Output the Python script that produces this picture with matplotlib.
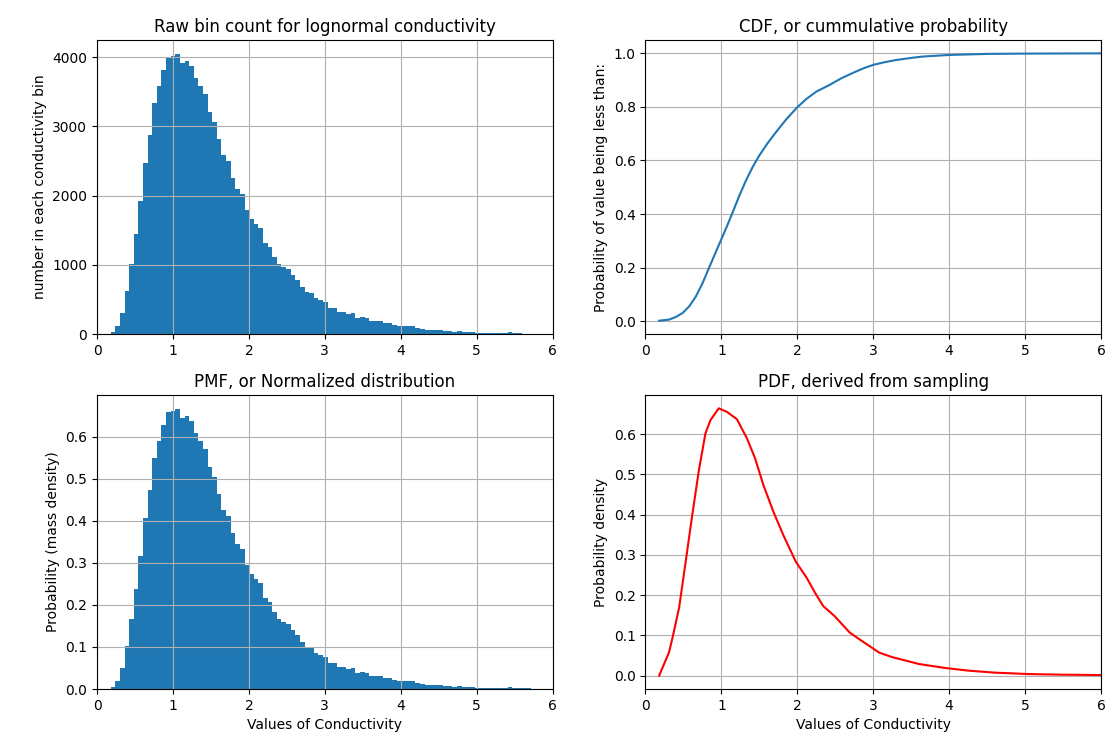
import numpy as np
import matplotlib
matplotlib.use("Agg")
import matplotlib.pyplot as plt
from matplotlib.ticker import MultipleLocator

# ---- data ----
bin_start = 0.18
bin_width = 0.0608
n_samples = 100000
counts = [
    30, 110, 311, 622, 1010, 1450, 1923, 2478, 2871, 3340,
    3589, 3818, 4000, 4024, 4048, 3923, 3952, 3876, 3699, 3589,
    3474, 3215, 3062, 2813, 2593, 2507, 2249, 2096, 2019, 1799,
    1665, 1589, 1531, 1321, 1254, 1120, 1014, 967, 938, 852,
    775, 678, 606, 591, 524, 490, 466, 370, 370, 322,
    312, 284, 303, 226, 245, 226, 192, 192, 188, 154,
    154, 135, 115, 115, 110, 110, 87, 77, 65, 65,
    62, 60, 48, 48, 29, 48, 29, 29, 29, 19,
    19, 10, 12, 10, 10, 10, 29, 10, 9, 8,
    8, 7, 6, 6, 5, 5,
]

cdf_x = [0.18, 0.31, 0.40, 0.49, 0.577, 0.665, 0.753, 0.841, 0.93, 0.996,
         1.084, 1.15, 1.238, 1.326, 1.414, 1.502, 1.612, 1.722, 1.855, 2.0,
         2.12, 2.25, 2.43, 2.58, 2.74, 2.87, 3.0, 3.15, 3.3, 3.5,
         3.65, 4.0, 4.52, 5.0, 6.0]
cdf_y = [0.002, 0.006, 0.016, 0.031, 0.056, 0.093, 0.143, 0.202, 0.261, 0.304,
         0.362, 0.408, 0.470, 0.527, 0.577, 0.620, 0.666, 0.707, 0.754, 0.799,
         0.830, 0.857, 0.883, 0.907, 0.928, 0.944, 0.957, 0.967, 0.975, 0.983,
         0.988, 0.994, 0.998, 0.999, 1.0]

pdf_x = [0.18, 0.31, 0.357, 0.443, 0.53, 0.617, 0.704, 0.79, 0.857, 0.965,
         1.074, 1.204, 1.335, 1.443, 1.552, 1.683, 1.813, 1.98, 2.12, 2.23,
         2.34, 2.49, 2.69, 2.82, 3.08, 3.25, 3.6, 3.95, 4.25, 4.6,
         5.04, 5.47, 6.0]
pdf_y = [0.0, 0.058, 0.095, 0.169, 0.284, 0.400, 0.511, 0.602, 0.635, 0.664,
         0.655, 0.637, 0.590, 0.540, 0.474, 0.408, 0.350, 0.283, 0.244, 0.207,
         0.173, 0.148, 0.107, 0.090, 0.057, 0.046, 0.029, 0.019, 0.0125, 0.0075,
         0.004, 0.0025, 0.0015]

counts = np.array(counts, dtype=float)
edges = bin_start + bin_width * np.arange(len(counts) + 1)
left = edges[:-1]
pmf = counts / (n_samples * bin_width)

fig, axs = plt.subplots(2, 2, figsize=(11.09, 7.5), dpi=100)
fig.subplots_adjust(left=0.0875, right=0.9928, top=0.9467, bottom=0.0813,
                    wspace=0.204, hspace=0.207)

ax = axs[0, 0]
ax.hist(left, bins=edges, weights=counts, color="C0")
ax.set_xlim(0, 6)
ax.yaxis.set_major_locator(MultipleLocator(1000))
ax.set_title("Raw bin count for lognormal conductivity")
ax.set_ylabel("number in each conductivity bin")
ax.grid(True)

ax = axs[0, 1]
ax.plot(cdf_x, cdf_y, color="C0")
ax.set_xlim(0, 6)
ax.set_title("CDF, or cummulative probability")
ax.set_ylabel("Probability of value being less than:")
ax.grid(True)

ax = axs[1, 0]
ax.hist(left, bins=edges, weights=pmf, color="C0")
ax.set_xlim(0, 6)
ax.set_title("PMF, or Normalized distribution")
ax.set_ylabel("Probability (mass density)")
ax.set_xlabel("Values of Conductivity")
ax.grid(True)

ax = axs[1, 1]
ax.plot(pdf_x, pdf_y, color="red")
ax.set_xlim(0, 6)
ax.set_title("PDF, derived from sampling")
ax.set_ylabel("Probability density")
ax.set_xlabel("Values of Conductivity")
ax.grid(True)

fig.savefig("out.png", dpi=100)
